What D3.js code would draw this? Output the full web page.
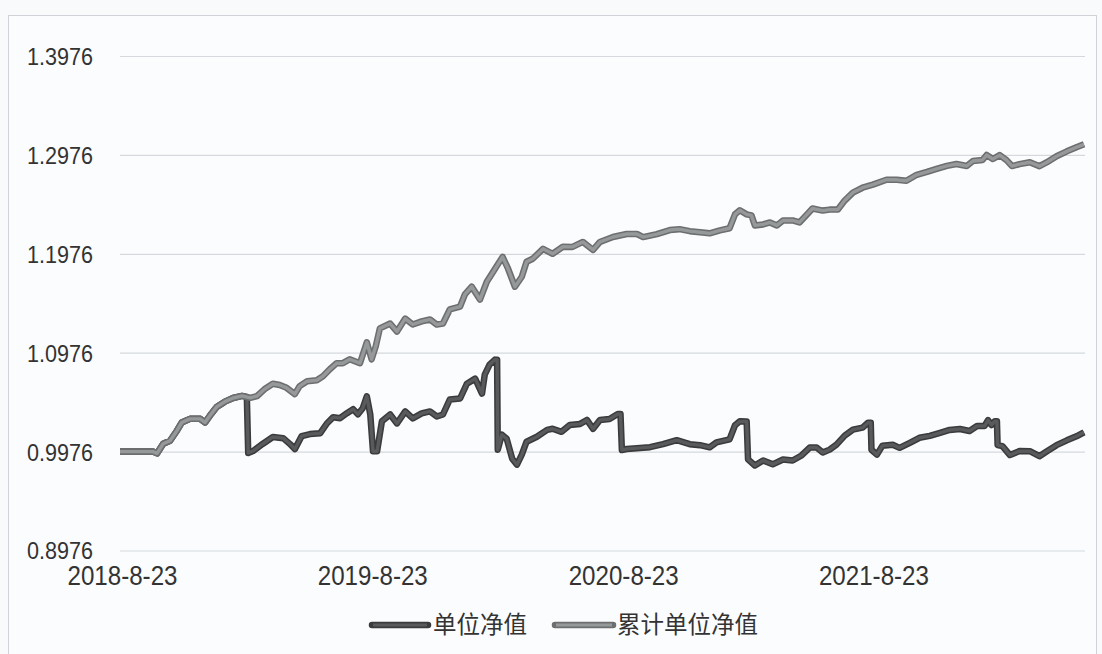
<!DOCTYPE html>
<html><head><meta charset="utf-8">
<script src="https://cdn.jsdelivr.net/npm/d3@7"></script>
<style>html,body{margin:0;padding:0;background:#f8fafc;} svg{display:block}</style>
</head><body>
<svg id="chart" width="1102" height="654"></svg>
<script>
const seriesNames = ["单位净值", "累计单位净值"];
const yTicks = [0.8976, 0.9976, 1.0976, 1.1976, 1.2976, 1.3976];
const xTickDates = ["2018-08-23", "2019-08-23", "2020-08-23", "2021-08-23"];
const xTickLabels = ["2018-8-23", "2019-8-23", "2020-8-23", "2021-8-23"];

const accDates = ["2018-08-23","2018-10-10","2018-10-16","2018-10-25","2018-11-04","2018-11-14","2018-11-21","2018-12-03","2018-12-18","2018-12-25","2019-01-01","2019-01-11","2019-01-23","2019-02-04","2019-02-17","2019-03-01","2019-03-11","2019-03-22","2019-04-03","2019-04-13","2019-04-23","2019-05-05","2019-05-12","2019-05-23","2019-06-06","2019-06-15","2019-06-25","2019-07-05","2019-07-14","2019-07-24","2019-08-08","2019-08-18","2019-08-25","2019-08-31","2019-09-06","2019-09-21","2019-10-01","2019-10-13","2019-10-24","2019-11-06","2019-11-18","2019-11-28","2019-12-07","2019-12-17","2020-01-01","2020-01-08","2020-01-18","2020-01-30","2020-02-09","2020-02-21","2020-03-03","2020-03-11","2020-03-21","2020-03-31","2020-04-07","2020-04-16","2020-05-01","2020-05-15","2020-05-30","2020-06-13","2020-06-28","2020-07-13","2020-07-23","2020-08-11","2020-08-31","2020-09-15","2020-09-24","2020-10-14","2020-11-02","2020-11-16","2020-12-01","2020-12-16","2020-12-30","2021-01-14","2021-01-28","2021-02-05","2021-02-12","2021-02-22","2021-03-01","2021-03-06","2021-03-18","2021-03-28","2021-04-07","2021-04-16","2021-04-30","2021-05-10","2021-05-21","2021-05-29","2021-06-13","2021-06-23","2021-07-05","2021-07-15","2021-07-27","2021-08-10","2021-08-25","2021-09-14","2021-09-29","2021-10-13","2021-10-28","2021-11-12","2021-11-26","2021-12-11","2021-12-25","2022-01-09","2022-01-18","2022-02-01","2022-02-07","2022-02-16","2022-02-26","2022-03-08","2022-03-16","2022-03-27","2022-04-11","2022-04-25","2022-05-06","2022-05-20","2022-06-04","2022-06-18","2022-06-29"];
const accValues = [0.9976,0.9976,0.9958,1.0056,1.0086,1.0187,1.0270,1.0307,1.0307,1.0270,1.0338,1.0428,1.0481,1.0518,1.0539,1.0520,1.0538,1.0608,1.0662,1.0649,1.0621,1.0557,1.0638,1.0688,1.0697,1.0738,1.0809,1.0870,1.0870,1.0910,1.0870,1.1081,1.0909,1.1040,1.1222,1.1271,1.1190,1.1321,1.1261,1.1292,1.1312,1.1261,1.1271,1.1413,1.1443,1.1565,1.1644,1.1513,1.1693,1.1824,1.1945,1.1825,1.1643,1.1744,1.1896,1.1926,1.2026,1.1976,1.2047,1.2046,1.2096,1.2015,1.2096,1.2146,1.2176,1.2176,1.2145,1.2175,1.2216,1.2225,1.2205,1.2194,1.2183,1.2213,1.2234,1.2375,1.2416,1.2375,1.2364,1.2263,1.2273,1.2293,1.2263,1.2313,1.2313,1.2293,1.2374,1.2434,1.2413,1.2423,1.2423,1.2514,1.2595,1.2644,1.2675,1.2725,1.2724,1.2714,1.2775,1.2804,1.2834,1.2865,1.2884,1.2864,1.2914,1.2924,1.2975,1.2934,1.2974,1.2923,1.2863,1.2883,1.2902,1.2862,1.2902,1.2963,1.3012,1.3053,1.3083];

const navDates = ["2018-08-23","2018-10-10","2018-10-16","2018-10-25","2018-11-04","2018-11-14","2018-11-21","2018-12-03","2018-12-18","2018-12-25","2019-01-01","2019-01-11","2019-01-23","2019-02-04","2019-02-17","2019-02-24","2019-02-26","2019-03-05","2019-03-19","2019-04-03","2019-04-18","2019-04-28","2019-05-05","2019-05-15","2019-05-27","2019-06-11","2019-06-21","2019-06-30","2019-07-10","2019-07-20","2019-07-29","2019-08-05","2019-08-12","2019-08-18","2019-08-23","2019-08-27","2019-09-02","2019-09-09","2019-09-21","2019-10-01","2019-10-13","2019-10-24","2019-11-06","2019-11-18","2019-11-28","2019-12-07","2019-12-17","2020-01-01","2020-01-11","2020-01-23","2020-02-02","2020-02-06","2020-02-13","2020-02-21","2020-02-24","2020-02-25","2020-03-02","2020-03-09","2020-03-17","2020-03-24","2020-03-31","2020-04-07","2020-04-22","2020-05-07","2020-05-15","2020-05-28","2020-06-09","2020-06-24","2020-07-04","2020-07-13","2020-07-23","2020-08-06","2020-08-18","2020-08-22","2020-08-24","2020-08-31","2020-09-15","2020-10-04","2020-10-23","2020-11-12","2020-12-01","2020-12-16","2020-12-30","2021-01-09","2021-01-28","2021-02-05","2021-02-12","2021-02-22","2021-02-24","2021-03-06","2021-03-18","2021-04-01","2021-04-16","2021-04-30","2021-05-13","2021-05-25","2021-06-04","2021-06-13","2021-06-23","2021-07-03","2021-07-15","2021-07-27","2021-08-10","2021-08-18","2021-08-22","2021-08-23","2021-08-31","2021-09-08","2021-09-23","2021-10-03","2021-10-18","2021-11-01","2021-11-16","2021-12-01","2021-12-15","2021-12-30","2022-01-13","2022-01-24","2022-02-04","2022-02-09","2022-02-14","2022-02-19","2022-02-22","2022-02-23","2022-03-02","2022-03-13","2022-03-27","2022-04-11","2022-04-25","2022-05-06","2022-05-20","2022-06-04","2022-06-18","2022-06-29"];
const navValues = [0.9976,0.9976,0.9958,1.0056,1.0086,1.0187,1.0270,1.0307,1.0307,1.0270,1.0338,1.0428,1.0481,1.0518,1.0539,1.0528,0.9962,0.9982,1.0053,1.0124,1.0112,1.0052,1.0001,1.0133,1.0153,1.0162,1.0263,1.0324,1.0314,1.0364,1.0405,1.0353,1.0414,1.0535,1.0353,0.9979,0.9979,1.0282,1.0352,1.0261,1.0382,1.0312,1.0362,1.0382,1.0331,1.0351,1.0503,1.0513,1.0663,1.0714,1.0562,1.0754,1.0855,1.0906,1.0905,0.9995,1.0147,1.0106,0.9904,0.9844,0.9945,1.0076,1.0126,1.0196,1.0207,1.0176,1.0246,1.0256,1.0296,1.0206,1.0296,1.0306,1.0356,1.0356,0.9992,1.0002,1.0011,1.0021,1.0052,1.0091,1.0051,1.0041,1.0019,1.0070,1.0100,1.0242,1.0282,1.0281,0.9897,0.9836,0.9887,0.9847,0.9896,0.9886,0.9937,1.0017,1.0017,0.9966,0.9996,1.0047,1.0138,1.0198,1.0218,1.0268,1.0268,0.9995,0.9945,1.0036,1.0045,1.0014,1.0065,1.0116,1.0135,1.0165,1.0195,1.0205,1.0184,1.0235,1.0235,1.0295,1.0245,1.0284,1.0284,1.0042,1.0032,0.9941,0.9981,0.9980,0.9929,0.9980,1.0041,1.0090,1.0131,1.0171];

const parse = d3.timeParse("%Y-%m-%d");
const svg = d3.select("#chart");
const W = 1102, H = 654;
const plotL = 120, plotR = 1085, plotT = 56, plotB = 550.5;

svg.append("rect").attr("x",0).attr("y",0).attr("width",W).attr("height",H).attr("fill","#f8fafc");
svg.append("rect").attr("x",8.5).attr("y",15.5).attr("width",1088).attr("height",660)
  .attr("fill","#fbfcfd").attr("stroke","#cfd3d7").attr("stroke-width",1);

const x = d3.scaleTime()
  .domain([parse(accDates[0]), parse(accDates[accDates.length-1])])
  .range([plotL, 1084]);
const y = d3.scaleLinear().domain([yTicks[0], yTicks[yTicks.length-1]]).range([plotB, plotT]);

// y axis with gridlines
const yAxis = d3.axisLeft(y).tickValues(yTicks).tickFormat(d3.format(".4f"))
  .tickSize(-(plotR - plotL)).tickPadding(27);
const gy = svg.append("g").attr("transform", `translate(${plotL},0)`).call(yAxis);
gy.select(".domain").remove();
gy.selectAll(".tick line").attr("stroke","#d5d9dd").attr("stroke-width",1.2);
gy.selectAll(".tick text").attr("fill","#333").attr("font-family","'Liberation Sans', Arial, sans-serif")
  .attr("font-size",23.5).attr("dy","0.36em").attr("textLength",66).attr("lengthAdjust","spacingAndGlyphs");

// x axis labels
const xAxis = d3.axisBottom(x).tickValues(xTickDates.map(parse))
  .tickFormat((d,i) => xTickLabels[i]).tickSize(0).tickPadding(0);
const gx = svg.append("g").attr("transform", `translate(0,585)`).call(xAxis);
gx.select(".domain").remove();
gx.selectAll(".tick text").attr("y",0).attr("dy",0).attr("fill","#333")
  .attr("font-family","'Liberation Sans', Arial, sans-serif").attr("font-size",27)
  .attr("textLength",110).attr("lengthAdjust","spacingAndGlyphs")
  .attr("dx", 2);

// lines
const navData = navDates.map((d,i) => ({date: parse(d), value: navValues[i]}));
const accData = accDates.map((d,i) => ({date: parse(d), value: accValues[i]}));
const line = d3.line().x(d => x(d.date)).y(d => y(d.value));

const styles = [
  {outer:"#3a3b3c", inner:"#585a5b"},
  {outer:"#6c6e6f", inner:"#96999a"}
];
[navData, accData].forEach((data, i) => {
  svg.append("path").datum(data).attr("d", line).attr("fill","none")
    .attr("stroke", styles[i].outer).attr("stroke-width", 6.5)
    .attr("stroke-linejoin","round").attr("stroke-linecap","butt");
  svg.append("path").datum(data).attr("d", line).attr("fill","none")
    .attr("stroke", styles[i].inner).attr("stroke-width", 3.4)
    .attr("stroke-linejoin","round").attr("stroke-linecap","butt");
});

// legend
const legendItems = [
  {name: seriesNames[0], x1: 372, x2: 428, tx: 433},
  {name: seriesNames[1], x1: 555, x2: 613, tx: 617}
];
const lg = svg.append("g");
legendItems.forEach((it, i) => {
  lg.append("line").attr("x1",it.x1).attr("x2",it.x2).attr("y1",625).attr("y2",625)
    .attr("stroke",styles[i].outer).attr("stroke-width",6.5).attr("stroke-linecap","round");
  lg.append("line").attr("x1",it.x1+1).attr("x2",it.x2-1).attr("y1",625).attr("y2",625)
    .attr("stroke",styles[i].inner).attr("stroke-width",3.2);
  lg.append("text").attr("x",it.tx).attr("y",633).text(it.name)
    .attr("font-family","'Noto Sans CJK SC', sans-serif").attr("font-size",23.5).attr("fill","#333");
});
</script>
</body></html>
